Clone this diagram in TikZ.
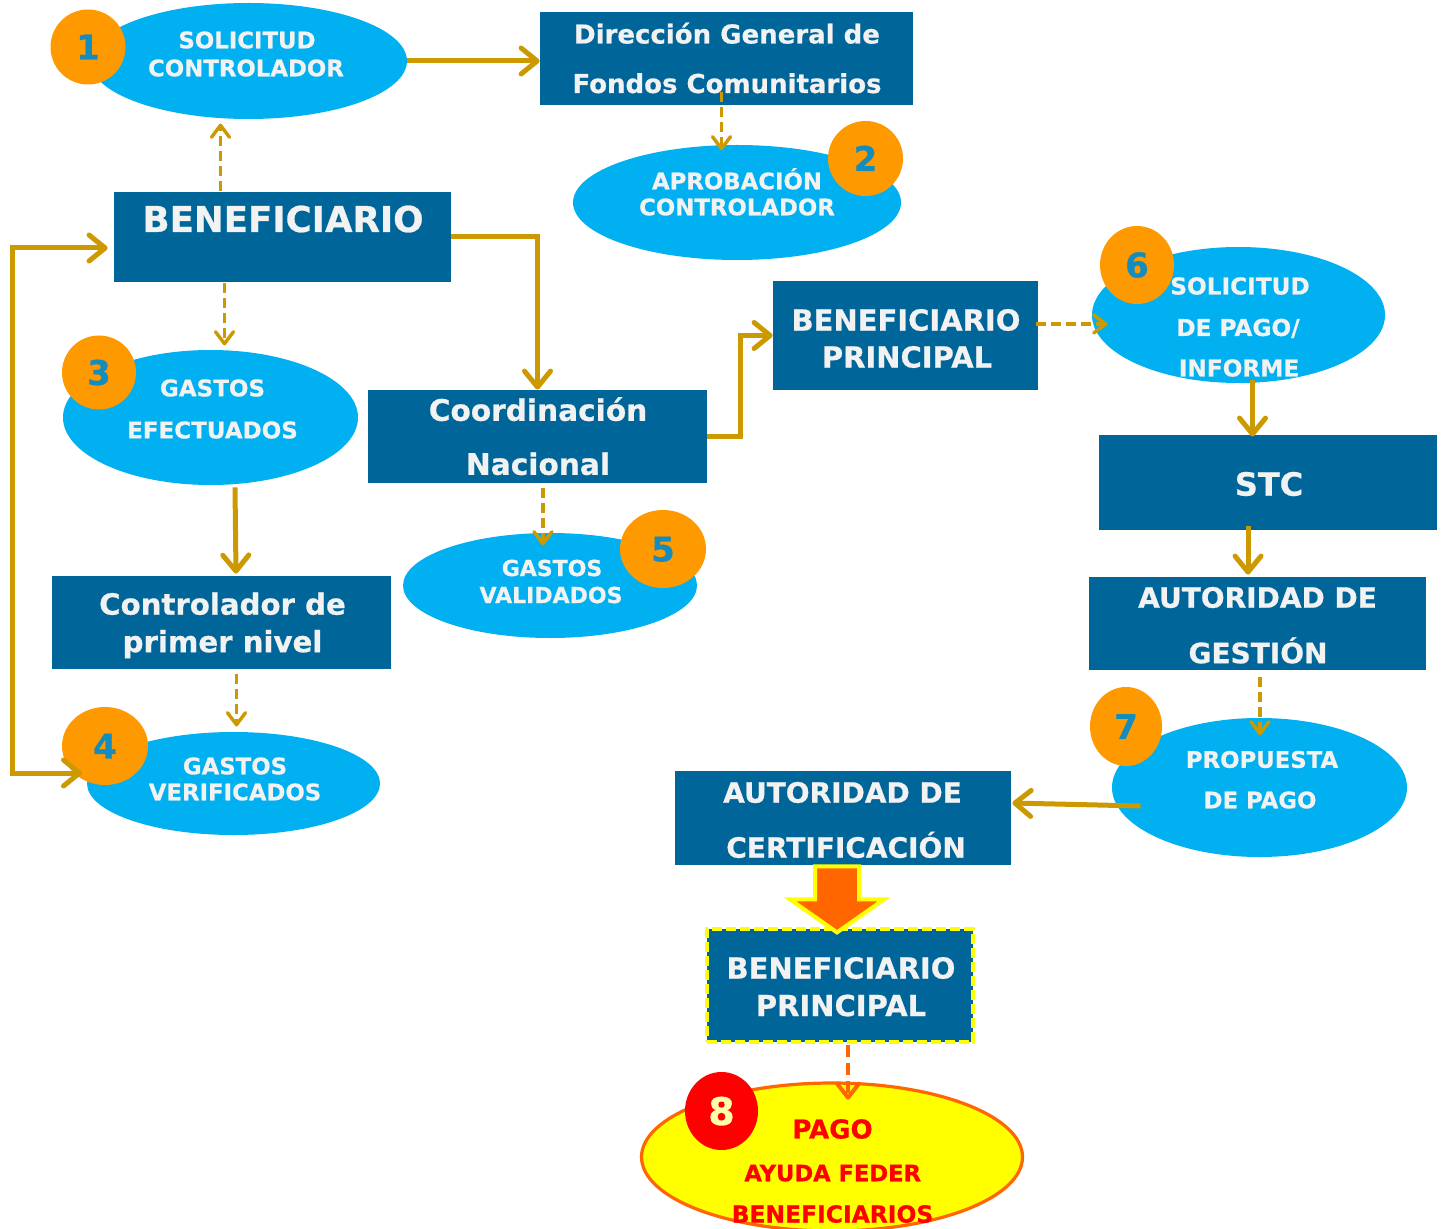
\documentclass[tikz,border=0pt]{standalone}
\usepackage{fontspec}
\setmainfont{DejaVu Sans}[BoldFeatures={FakeBold=0.7}]
\usetikzlibrary{shapes.geometric,arrows.meta,calc}
\definecolor{dblue}{RGB}{0,102,153}
\definecolor{lblue}{RGB}{0,176,240}
\definecolor{orng}{RGB}{255,153,0}
\definecolor{gold}{RGB}{204,153,0}
\definecolor{numblue}{RGB}{20,140,190}
\definecolor{wtxt}{RGB}{242,242,242}
\definecolor{deeporange}{RGB}{255,102,0}
\definecolor{pyellow}{RGB}{255,255,0}
\definecolor{lyel}{RGB}{255,255,170}
\definecolor{bpborder}{RGB}{70,90,110}
\newcommand\fsz[1]{\fontsize{#1}{#1}\selectfont}
\begin{document}
\begin{tikzpicture}[x=0.5pt,y=-0.5pt,
  box/.style={rectangle, fill=dblue, draw=none, inner sep=0pt},
  ell/.style={ellipse, fill=lblue, draw=none, inner sep=0pt},
  num/.style={ellipse, fill=orng, draw=none, inner sep=0pt, text=numblue, font={\bfseries\fsz{17}}, text height=12.4pt, text depth=0pt},
  tx/.style={inner sep=0pt, text=wtxt, font={\bfseries\fsz{#1}}, text height={0.729*#1pt}, text depth=0pt},
  rtx/.style={inner sep=0pt, text=red, font={\bfseries\fsz{#1}}, text height={0.729*#1pt}, text depth=0pt},
  sarr/.style={draw=gold, line width=2.5pt, -{Straight Barb[length=8pt,width=13pt,round]}},
  lparr/.style={draw=gold, line width=2.5pt, {Straight Barb[length=8pt,width=13pt,round]}-{Straight Barb[length=8pt,width=13pt,round]}},
  darr/.style={draw=gold, line width=1.7pt, dash pattern=on 5pt off 2.5pt, -{Straight Barb[length=6pt,width=9pt,round]}},
  oarr/.style={draw=deeporange, line width=2pt, dash pattern=on 6pt off 3pt, -{Straight Barb[length=7pt,width=11pt,round]}},
  bigarrow/.style={fill=deeporange, draw=pyellow, line width=2pt, line join=miter},
  bptwo/.style={box, draw=pyellow, line width=1.6pt, dash pattern=on 5pt off 2pt, preaction={draw=bpborder, line width=1.6pt}},
  ellpay/.style={ellipse, fill=pyellow, draw=deeporange, line width=1.6pt, inner sep=0pt}
]
\useasboundingbox (0,0) rectangle (1443,1229);
\fill[white] (0,0) rectangle (1443,1229);

% ---------- shapes ----------
\node[ell, minimum width=158.5pt, minimum height=58pt] (ell1) at (248.5,61) {};
\node[box, minimum width=186.5pt, minimum height=46.5pt] (dgfc) at (726.5,58.5) {};
\node[ell, minimum width=164pt, minimum height=57.5pt] (ell2) at (737,202.5) {};
\node[box, minimum width=168.5pt, minimum height=45pt] (ben) at (282.5,237) {};
\node[ell, minimum width=147.5pt, minimum height=67.5pt] (ell3) at (210.5,417.5) {};
\node[box, minimum width=169.5pt, minimum height=46.5pt] (coord) at (537.5,436.5) {};
\node[box, minimum width=132.5pt, minimum height=54.5pt] (bp) at (905.5,335.5) {};
\node[ell, minimum width=146.5pt, minimum height=68pt] (ell6) at (1238.5,315) {};
\node[box, minimum width=169pt, minimum height=47.5pt] (stc) at (1268,482.5) {};
\node[box, minimum width=169.5pt, minimum height=46.5pt] (ctrl) at (221.5,622.5) {};
\node[ell, minimum width=147pt, minimum height=52.5pt] (ell5) at (550,585.5) {};
\node[box, minimum width=168.5pt, minimum height=46.5pt] (ag) at (1257.5,623.5) {};
\node[ell, minimum width=146.5pt, minimum height=51.5pt] (ell4) at (233.5,783.5) {};
\node[ell, minimum width=147.5pt, minimum height=69.5pt] (ell7) at (1259.5,787.5) {};
\node[box, minimum width=168pt, minimum height=47pt] (ac) at (843,818) {};
\node[bptwo, minimum width=133pt, minimum height=56.5pt] (bp2) at (840,985.5) {};
\node[ellpay, minimum width=190.5pt, minimum height=74pt] (ell8) at (832,1157) {};

% ---------- number badges ----------
\node[num, minimum width=37.5pt, minimum height=37.5pt] (n1) at (88,47) {1};
\node[num, minimum width=37.5pt, minimum height=37.5pt] (n2) at (865.5,158.5) {2};
\node[num, minimum width=37pt, minimum height=37pt] (n3) at (99,372.5) {3};
\node[num, minimum width=43pt, minimum height=39pt] (n4) at (105,746) {4};
\node[num, minimum width=43pt, minimum height=39pt] (n5) at (663,549) {5};
\node[num, minimum width=37pt, minimum height=39pt] (n6) at (1137,265) {6};
\node[num, minimum width=36pt, minimum height=39.5pt] (n7) at (1126,726.5) {7};
\node[num, fill=red, text=lyel, font={\bfseries\fsz{19}}, text height=13.9pt, minimum width=36.5pt, minimum height=39pt] (n8) at (721.5,1111) {8};

% ---------- connectors ----------
\draw[sarr] (ell1.east) -- (ell1.east -| dgfc.west);
\draw[darr] ($(ben.north)+(-62,-1)$) -- ($(ben.north)+(-62,-68)$);
\draw[darr] ($(dgfc.south)+(-5,-13)$) -- ($(dgfc.south)+(-5,45)$);
\draw[sarr] (ben.east) -| (coord.north);
\draw[darr] ($(ben.south)+(-58,1)$) -- ($(ben.south)+(-58,63)$);
\draw[sarr] ($(ell3.south)+(24.5,2)$) -- ($(ctrl.north)+(14.5,-2)$);
\draw[darr] ($(ctrl.south)+(15,5)$) -- ($(ctrl.south)+(15,57)$);
\coordinate (c4tip) at (82,773);
\draw[lparr] ($(ben.west)+(-6,11)$) -- ++(-95,0) |- (c4tip);
\draw[darr] ($(coord.south)+(5.5,5)$) -- ($(coord.south)+(5.5,62)$);
\draw[sarr] (coord.east) -- ($(coord.east)+(33,0)$) |- (bp.west);
\draw[darr] ($(bp.east)+(-2,-11.5)$) -- ($(bp.east)+(69,-11.5)$);
\draw[sarr] ($(ell6.south)+(14,-3)$) -- ($(stc.north)+(-15.5,2)$);
\draw[sarr] ($(stc.south)+(-20,-4)$) -- ($(ag.north)+(-9.5,-2)$);
\draw[darr] ($(ag.south)+(2.5,7)$) -- ($(ag.south)+(2.5,65)$);
\draw[sarr] ($(ell7.west)+(29,18.5)$) -- ($(ac.east)+(1,-15)$);
\draw[bigarrow] ($(ac.south)+(-28,1)$) -- ($(ac.south)+(16,1)$) -- ($(ac.south)+(16,34)$)
  -- ($(ac.south)+(41,34)$) -- ($(ac.south)+(-6,67)$) -- ($(ac.south)+(-53,34)$)
  -- ($(ac.south)+(-28,34)$) -- cycle;
\draw[oarr] ($(bp2.south)+(8,1)$) -- ($(bp2.south)+(8,56)$);

% ---------- texts ----------
\node[tx=11.4] (t1a) at (247,40) {SOLICITUD};
\node[tx=11.4] (t1b) at (246,68) {CONTROLADOR};
\node[tx=13] (tda) at (727,34) {Dirección General de};
\node[tx=13] (tdb) at (727,83.5) {Fondos Comunitarios};
\node[tx=11.4] (t2a) at (737,181) {APROBACIÓN};
\node[tx=11.4] (t2b) at (737,207) {CONTROLADOR};
\node[tx=17.8] (tben) at (283,219) {BENEFICIARIO};
\node[tx=11.5] (t3a) at (212.5,388) {GASTOS};
\node[tx=11.5] (t3b) at (212.5,430) {EFECTUADOS};
\node[tx=14.8] (tca) at (538,410) {Coordinación};
\node[tx=14.8] (tcb) at (538,464) {Nacional};
\node[tx=11] (t5a) at (552,568) {GASTOS};
\node[tx=11] (t5b) at (551,595) {VALIDADOS};
\node[tx=14.5] (tpa) at (906,320) {BENEFICIARIO};
\node[tx=14.5] (tpb) at (907,357) {PRINCIPAL};
\node[tx=11.6] (t6a) at (1240,286) {SOLICITUD};
\node[tx=11.6] (t6b) at (1238,327.5) {DE PAGO/};
\node[tx=11.6] (t6c) at (1239,368) {INFORME};
\node[tx=16] (tstc) at (1269,484) {STC};
\node[tx=14] (tga) at (1257.5,597.5) {AUTORIDAD DE};
\node[tx=14] (tgb) at (1258,653) {GESTIÓN};
\node[tx=14.6] (tka) at (222.5,604) {Controlador de};
\node[tx=14.6] (tkb) at (222.5,641.5) {primer nivel};
\node[tx=11.4] (t4a) at (235,766) {GASTOS};
\node[tx=11.4] (t4b) at (235,792) {VERIFICADOS};
\node[tx=11.4] (t7a) at (1262,759.5) {PROPUESTA};
\node[tx=11.4] (t7b) at (1260,800) {DE PAGO};
\node[tx=14] (taa) at (842.5,792.5) {AUTORIDAD DE};
\node[tx=14] (tab) at (846,847.5) {CERTIFICACIÓN};
\node[tx=14.5] (tqa) at (841,968) {BENEFICIARIO};
\node[tx=14.5] (tqb) at (841,1005.5) {PRINCIPAL};
\node[rtx=13] (t8a) at (832.5,1129) {PAGO};
\node[rtx=11.3] (t8b) at (832.7,1173) {AYUDA FEDER};
\node[rtx=11.7] (t8c) at (832.5,1214) {BENEFICIARIOS};
\end{tikzpicture}
\end{document}
